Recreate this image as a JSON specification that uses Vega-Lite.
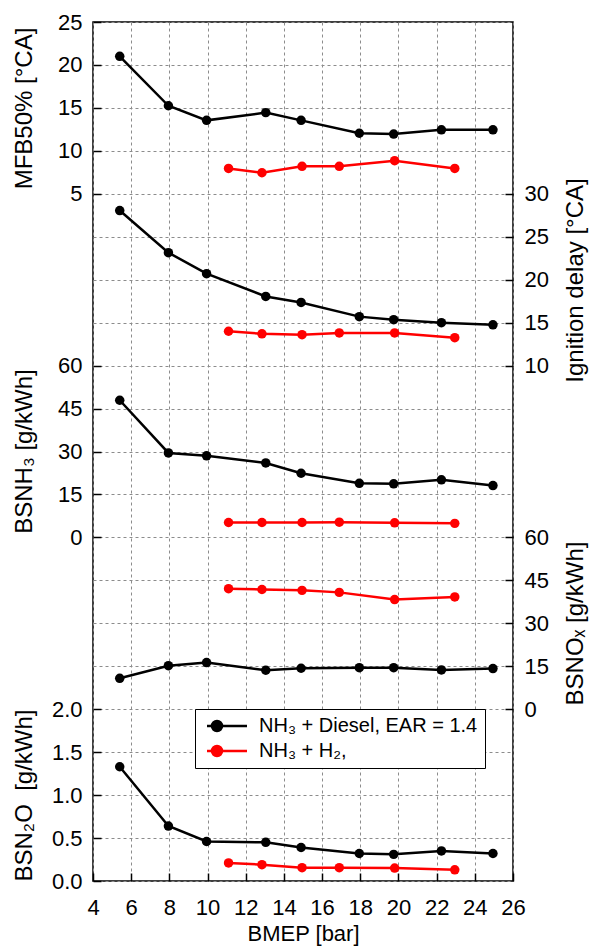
{
  "$schema": "https://vega.github.io/schema/vega-lite/v6.json",
  "width": 420,
  "height": 859,
  "autosize": {"type": "none"},
  "padding": {"left": 93, "top": 22, "right": 77, "bottom": 71},
  "background": "white",
  "config": {
    "font": "Liberation Sans",
    "view": {"stroke": "black", "strokeWidth": 1.5},
    "axis": {
      "domain": false,
      "grid": false,
      "ticks": true,
      "tickSize": -8,
      "tickColor": "black",
      "tickWidth": 1.5,
      "labelFontSize": 22,
      "labelColor": "black",
      "labelPadding": 19,
      "labelOverlap": false,
      "labelFlush": false,
      "titleFontSize": 24,
      "titleFontWeight": "normal",
      "titleColor": "black"
    }
  },
  "data": {
    "values": [
      {"BMEP": 5.4, "fuel": "D", "var": "MFB", "v": 21.0},
      {"BMEP": 7.95, "fuel": "D", "var": "MFB", "v": 15.25},
      {"BMEP": 9.95, "fuel": "D", "var": "MFB", "v": 13.55},
      {"BMEP": 13.05, "fuel": "D", "var": "MFB", "v": 14.45},
      {"BMEP": 14.9, "fuel": "D", "var": "MFB", "v": 13.55},
      {"BMEP": 17.95, "fuel": "D", "var": "MFB", "v": 12.05},
      {"BMEP": 19.75, "fuel": "D", "var": "MFB", "v": 11.95},
      {"BMEP": 22.25, "fuel": "D", "var": "MFB", "v": 12.45},
      {"BMEP": 24.95, "fuel": "D", "var": "MFB", "v": 12.45},
      {"BMEP": 11.1, "fuel": "H", "var": "MFB", "v": 7.95},
      {"BMEP": 12.85, "fuel": "H", "var": "MFB", "v": 7.45},
      {"BMEP": 14.95, "fuel": "H", "var": "MFB", "v": 8.2},
      {"BMEP": 16.9, "fuel": "H", "var": "MFB", "v": 8.2},
      {"BMEP": 19.8, "fuel": "H", "var": "MFB", "v": 8.85},
      {"BMEP": 22.95, "fuel": "H", "var": "MFB", "v": 7.95},
      {"BMEP": 5.4, "fuel": "D", "var": "IGN", "v": 28.05},
      {"BMEP": 7.95, "fuel": "D", "var": "IGN", "v": 23.15},
      {"BMEP": 9.95, "fuel": "D", "var": "IGN", "v": 20.7},
      {"BMEP": 13.05, "fuel": "D", "var": "IGN", "v": 18.05},
      {"BMEP": 14.9, "fuel": "D", "var": "IGN", "v": 17.35},
      {"BMEP": 17.95, "fuel": "D", "var": "IGN", "v": 15.7},
      {"BMEP": 19.75, "fuel": "D", "var": "IGN", "v": 15.35},
      {"BMEP": 22.25, "fuel": "D", "var": "IGN", "v": 15.0},
      {"BMEP": 24.95, "fuel": "D", "var": "IGN", "v": 14.75},
      {"BMEP": 11.1, "fuel": "H", "var": "IGN", "v": 14.0},
      {"BMEP": 12.85, "fuel": "H", "var": "IGN", "v": 13.7},
      {"BMEP": 14.95, "fuel": "H", "var": "IGN", "v": 13.6},
      {"BMEP": 16.9, "fuel": "H", "var": "IGN", "v": 13.8},
      {"BMEP": 19.8, "fuel": "H", "var": "IGN", "v": 13.8},
      {"BMEP": 22.95, "fuel": "H", "var": "IGN", "v": 13.25},
      {"BMEP": 5.4, "fuel": "D", "var": "NH3", "v": 47.9},
      {"BMEP": 7.95, "fuel": "D", "var": "NH3", "v": 29.5},
      {"BMEP": 9.95, "fuel": "D", "var": "NH3", "v": 28.5},
      {"BMEP": 13.05, "fuel": "D", "var": "NH3", "v": 26.0},
      {"BMEP": 14.9, "fuel": "D", "var": "NH3", "v": 22.4},
      {"BMEP": 17.95, "fuel": "D", "var": "NH3", "v": 18.9},
      {"BMEP": 19.75, "fuel": "D", "var": "NH3", "v": 18.7},
      {"BMEP": 22.25, "fuel": "D", "var": "NH3", "v": 20.1},
      {"BMEP": 24.95, "fuel": "D", "var": "NH3", "v": 18.1},
      {"BMEP": 11.1, "fuel": "H", "var": "NH3", "v": 5.2},
      {"BMEP": 12.85, "fuel": "H", "var": "NH3", "v": 5.2},
      {"BMEP": 14.95, "fuel": "H", "var": "NH3", "v": 5.2},
      {"BMEP": 16.9, "fuel": "H", "var": "NH3", "v": 5.3},
      {"BMEP": 19.8, "fuel": "H", "var": "NH3", "v": 5.1},
      {"BMEP": 22.95, "fuel": "H", "var": "NH3", "v": 4.9},
      {"BMEP": 5.4, "fuel": "D", "var": "NOX", "v": 10.8},
      {"BMEP": 7.95, "fuel": "D", "var": "NOX", "v": 15.2},
      {"BMEP": 9.95, "fuel": "D", "var": "NOX", "v": 16.3},
      {"BMEP": 13.05, "fuel": "D", "var": "NOX", "v": 13.6},
      {"BMEP": 14.9, "fuel": "D", "var": "NOX", "v": 14.3},
      {"BMEP": 17.95, "fuel": "D", "var": "NOX", "v": 14.5},
      {"BMEP": 19.75, "fuel": "D", "var": "NOX", "v": 14.5},
      {"BMEP": 22.25, "fuel": "D", "var": "NOX", "v": 13.7},
      {"BMEP": 24.95, "fuel": "D", "var": "NOX", "v": 14.2},
      {"BMEP": 11.1, "fuel": "H", "var": "NOX", "v": 42.1},
      {"BMEP": 12.85, "fuel": "H", "var": "NOX", "v": 41.8},
      {"BMEP": 14.95, "fuel": "H", "var": "NOX", "v": 41.5},
      {"BMEP": 16.9, "fuel": "H", "var": "NOX", "v": 40.8},
      {"BMEP": 19.8, "fuel": "H", "var": "NOX", "v": 38.3},
      {"BMEP": 22.95, "fuel": "H", "var": "NOX", "v": 39.2},
      {"BMEP": 5.4, "fuel": "D", "var": "N2O", "v": 1.33},
      {"BMEP": 7.95, "fuel": "D", "var": "N2O", "v": 0.64},
      {"BMEP": 9.95, "fuel": "D", "var": "N2O", "v": 0.46},
      {"BMEP": 13.05, "fuel": "D", "var": "N2O", "v": 0.45},
      {"BMEP": 14.9, "fuel": "D", "var": "N2O", "v": 0.39},
      {"BMEP": 17.95, "fuel": "D", "var": "N2O", "v": 0.32},
      {"BMEP": 19.75, "fuel": "D", "var": "N2O", "v": 0.31},
      {"BMEP": 22.25, "fuel": "D", "var": "N2O", "v": 0.35},
      {"BMEP": 24.95, "fuel": "D", "var": "N2O", "v": 0.32},
      {"BMEP": 11.1, "fuel": "H", "var": "N2O", "v": 0.21},
      {"BMEP": 12.85, "fuel": "H", "var": "N2O", "v": 0.19},
      {"BMEP": 14.95, "fuel": "H", "var": "N2O", "v": 0.155},
      {"BMEP": 16.9, "fuel": "H", "var": "N2O", "v": 0.155},
      {"BMEP": 19.8, "fuel": "H", "var": "N2O", "v": 0.15},
      {"BMEP": 22.95, "fuel": "H", "var": "N2O", "v": 0.13}
    ]
  },
  "encoding": {
    "x": {
      "field": "BMEP",
      "type": "quantitative",
      "scale": {"domain": [4, 26], "nice": false, "zero": false},
      "axis": {
        "values": [4, 6, 8, 10, 12, 14, 16, 18, 20, 22, 24, 26],
        "grid": true,
        "gridDash": [3, 3],
        "gridColor": "#8c8c8c",
        "gridWidth": 1,
        "labelPadding": 24,
        "title": "BMEP [bar]",
        "titleFontSize": 22,
        "titlePadding": 5
      }
    },
    "color": {
      "field": "fuel",
      "type": "nominal",
      "scale": {"domain": ["D", "H"], "range": ["black", "red"]},
      "legend": {
        "orient": "none",
        "legendX": 102,
        "legendY": 687,
        "title": null,
        "direction": "vertical",
        "padding": 7,
        "strokeColor": "black",
        "fillColor": "white",
        "labelFontSize": 20,
        "labelColor": "black",
        "labelLimit": 400,
        "labelExpr": "datum.value === 'D' ? 'NH₃ + Diesel, EAR = 1.4' : 'NH₃ + H₂,'",
        "symbolType": "M-4,0L4,0M-1,0A1,1,0,1,1,-3,0A1,1,0,1,1,-1,0Z",
        "symbolSize": 100,
        "symbolStrokeWidth": 2.5,
        "symbolOffset": 15,
        "labelOffset": 22,
        "rowPadding": 5,
        "encode": {
          "symbols": {
            "update": {
              "fill": {"scale": "color", "field": "value"},
              "stroke": {"scale": "color", "field": "value"},
              "opacity": {"value": 1}
            }
          }
        }
      }
    }
  },
  "layer": [
    {
      "transform": [{"filter": "datum.var === 'N2O'"}],
      "mark": {"type": "point", "opacity": 0},
      "encoding": {
        "color": {"value": "transparent"},
        "y": {
          "field": "v",
          "type": "quantitative",
          "scale": {"domain": [0, 20], "nice": false, "zero": false},
          "axis": {
            "orient": "left",
            "values": [0, 1, 2, 3, 4, 5, 6, 7, 8, 9, 10, 11, 12, 13, 14, 15, 16, 17, 18, 19, 20],
            "grid": true,
            "gridDash": [3, 3],
            "gridColor": "#8c8c8c",
            "gridWidth": 1,
            "labels": false,
            "ticks": false,
            "title": null
          }
        }
      }
    },
    {
      "transform": [{"filter": "datum.var === 'MFB'"}],
      "mark": {"type": "line", "strokeWidth": 2.5, "point": {"filled": true, "size": 90}},
      "encoding": {
        "y": {
          "field": "v",
          "type": "quantitative",
          "scale": {"domain": [-75, 25], "nice": false, "zero": false},
          "axis": {
            "orient": "left",
            "values": [5, 10, 15, 20, 25],
            "title": "MFB50% [°CA]",
            "titleX": -69,
            "titleY": 86,
            "titleAngle": 270,
            "titleAlign": "center",
            "titleBaseline": "middle"
          }
        }
      }
    },
    {
      "transform": [{"filter": "datum.var === 'IGN'"}],
      "mark": {"type": "line", "strokeWidth": 2.5, "point": {"filled": true, "size": 90}},
      "encoding": {
        "y": {
          "field": "v",
          "type": "quantitative",
          "scale": {"domain": [-50, 50], "nice": false, "zero": false},
          "axis": {
            "orient": "right",
            "values": [10, 15, 20, 25, 30],
            "title": "Ignition delay [°CA]",
            "titleX": 62,
            "titleY": 258,
            "titleAngle": 270,
            "titleAlign": "center",
            "titleBaseline": "middle"
          }
        }
      }
    },
    {
      "transform": [{"filter": "datum.var === 'NH3'"}],
      "mark": {"type": "line", "strokeWidth": 2.5, "point": {"filled": true, "size": 90}},
      "encoding": {
        "y": {
          "field": "v",
          "type": "quantitative",
          "scale": {"domain": [-120, 180], "nice": false, "zero": false},
          "axis": {
            "orient": "left",
            "values": [0, 15, 30, 45, 60],
            "title": "BSNH₃ [g/kWh]",
            "titleX": -69,
            "titleY": 429,
            "titleAngle": 270,
            "titleAlign": "center",
            "titleBaseline": "middle"
          }
        }
      }
    },
    {
      "transform": [{"filter": "datum.var === 'NOX'"}],
      "mark": {"type": "line", "strokeWidth": 2.5, "point": {"filled": true, "size": 90}},
      "encoding": {
        "y": {
          "field": "v",
          "type": "quantitative",
          "scale": {"domain": [-60, 240], "nice": false, "zero": false},
          "axis": {
            "orient": "right",
            "values": [0, 15, 30, 45, 60],
            "title": "BSNOₓ [g/kWh]",
            "titleX": 62,
            "titleY": 601,
            "titleAngle": 270,
            "titleAlign": "center",
            "titleBaseline": "middle"
          }
        }
      }
    },
    {
      "transform": [{"filter": "datum.var === 'N2O'"}],
      "mark": {"type": "line", "strokeWidth": 2.5, "point": {"filled": true, "size": 90}},
      "encoding": {
        "y": {
          "field": "v",
          "type": "quantitative",
          "scale": {"domain": [0, 10], "nice": false, "zero": false},
          "axis": {
            "orient": "left",
            "values": [0, 0.5, 1, 1.5, 2],
            "format": ".1f",
            "title": "BSN₂O\u00a0 [g/kWh]",
            "titleX": -69,
            "titleY": 773,
            "titleAngle": 270,
            "titleAlign": "center",
            "titleBaseline": "middle"
          }
        }
      }
    }
  ],
  "resolve": {"scale": {"y": "independent"}, "axis": {"y": "independent"}}
}
